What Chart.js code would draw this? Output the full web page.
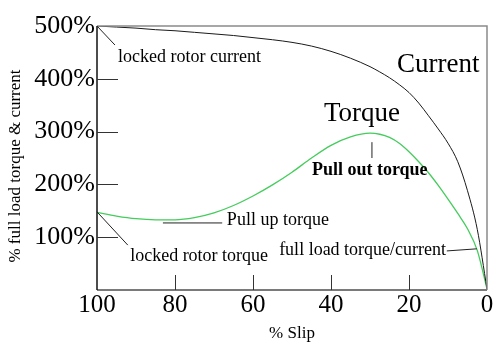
<!DOCTYPE html>
<html>
<head>
<meta charset="utf-8">
<script src="https://cdn.jsdelivr.net/npm/chart.js@4"></script>
<style>
  html, body { margin: 0; padding: 0; background: #fff; }
  #wrap { width: 503px; height: 353px; }
</style>
</head>
<body>
<div id="wrap"><canvas id="motorChart"></canvas></div>
<script>
// % slip (x) and the two curves
const slip = [100, 95, 90, 85, 80, 75, 70, 65, 60, 55, 50, 45, 40, 35, 30, 27.5, 25, 22.5, 20, 17.5, 15, 12.5, 10, 7.5, 5, 2.5, 0];
const currentPct = [500, 498, 496, 493, 491, 488, 485, 482, 478, 474, 469, 462, 452, 439, 423, 413, 402, 389, 374, 354, 330, 305, 278, 243, 188, 115, 2];
const torquePct = [147, 140, 135, 133, 133, 137, 146, 160, 178, 199, 223, 250, 274, 290, 297, 295, 289, 278, 262, 243, 222, 198, 172, 145, 116, 75, 2];

const xTicks = [80, 60, 40, 20];
const yTicks = [100, 200, 300, 400];
const yTitle = '% full load torque & current';

// callout texts and leader lines, in data units (slip, %)
const labels = [
    { text: 'locked rotor current', x: 94.6, y: 432, size: 18 },
    { text: 'Current', x: 23.1, y: 413, size: 27 },
    { text: 'Torque', x: 41.8, y: 320, size: 27 },
    { text: 'Pull out torque', x: 44.9, y: 218, size: 18, bold: true },
    { text: 'Pull up torque', x: 66.7, y: 123, size: 18 },
    { text: 'locked rotor torque', x: 91.5, y: 55, size: 18 },
    { text: 'full load torque/current', x: 53.3, y: 66, size: 18 }
];
const leaders = [
    [100, 500, 95.4, 464],
    [100, 148, 92.1, 85],
    [83.1, 127, 67.9, 127],
    [29.5, 280, 29.5, 250],
    [10.3, 74, 2.6, 78]
];

const serif = "'Liberation Serif', 'Times New Roman', serif";

// frame, inner ticks, y title and callouts
const decorPlugin = {
    id: 'decor',
    afterDatasetsDraw(chart) {
        const ctx = chart.ctx;
        const a = chart.chartArea;
        const xs = chart.scales.x;
        const ys = chart.scales.y;
        ctx.save();

        // top + right border (grey)
        ctx.strokeStyle = '#8a8a8a';
        ctx.lineWidth = 1.5;
        ctx.beginPath();
        ctx.moveTo(a.left, a.top);
        ctx.lineTo(a.right, a.top);
        ctx.lineTo(a.right, a.bottom);
        ctx.stroke();

        // bottom axis (grey)
        ctx.strokeStyle = '#7a7a7a';
        ctx.lineWidth = 2;
        ctx.beginPath();
        ctx.moveTo(a.left, a.bottom);
        ctx.lineTo(a.right, a.bottom);
        ctx.stroke();

        // left axis (black)
        ctx.strokeStyle = '#111';
        ctx.lineWidth = 1.5;
        ctx.beginPath();
        ctx.moveTo(a.left, a.top);
        ctx.lineTo(a.left, a.bottom);
        ctx.stroke();

        // ticks pointing inward
        ctx.strokeStyle = '#333';
        ctx.lineWidth = 1;
        ctx.beginPath();
        yTicks.forEach(v => {
            const py = Math.round(ys.getPixelForValue(v)) + 0.5;
            ctx.moveTo(a.left, py);
            ctx.lineTo(a.left + 21, py);
        });
        xTicks.forEach(v => {
            const px = Math.round(xs.getPixelForValue(v)) + 0.5;
            ctx.moveTo(px, a.bottom);
            ctx.lineTo(px, a.bottom - 15);
        });
        ctx.stroke();

        // leader lines
        ctx.strokeStyle = '#222';
        ctx.lineWidth = 1;
        ctx.beginPath();
        leaders.forEach(l => {
            ctx.moveTo(xs.getPixelForValue(l[0]), ys.getPixelForValue(l[1]));
            ctx.lineTo(xs.getPixelForValue(l[2]), ys.getPixelForValue(l[3]));
        });
        ctx.stroke();

        // callout texts
        ctx.fillStyle = '#000';
        ctx.textAlign = 'left';
        ctx.textBaseline = 'alphabetic';
        labels.forEach(t => {
            ctx.font = (t.bold ? 'bold ' : '') + t.size + 'px ' + serif;
            ctx.fillText(t.text, xs.getPixelForValue(t.x), ys.getPixelForValue(t.y));
        });

        // rotated y title, a little below the axis centre like the original
        ctx.translate(16, (a.top + a.bottom) / 2 + 8);
        ctx.rotate(-Math.PI / 2);
        ctx.textAlign = 'center';
        ctx.textBaseline = 'middle';
        ctx.font = '17px ' + serif;
        ctx.fillText(yTitle, 0, 0);
        ctx.restore();
    }
};

const chartCtx = document.getElementById('motorChart').getContext('2d');
const motorChart = new Chart(chartCtx, {
    type: 'line',
    data: {
        labels: slip,
        datasets: [
            {
                label: 'Current',
                data: slip.map((s, i) => ({ x: s, y: currentPct[i] })),
                borderColor: '#1a1a1a',
                borderWidth: 1,
                pointRadius: 0,
                cubicInterpolationMode: 'monotone',
                fill: false
            },
            {
                label: 'Torque',
                data: slip.map((s, i) => ({ x: s, y: torquePct[i] })),
                borderColor: '#44cc5c',
                borderWidth: 1.3,
                pointRadius: 0,
                cubicInterpolationMode: 'monotone',
                fill: false
            }
        ]
    },
    options: {
        responsive: true,
        maintainAspectRatio: false,
        animation: false,
        layout: {
            padding: { top: 26, right: 16, left: 0, bottom: 0 }
        },
        plugins: {
            legend: { display: false },
            tooltip: { enabled: false }
        },
        scales: {
            x: {
                type: 'linear',
                min: 0,
                max: 100,
                reverse: true,
                afterFit: scale => { scale.height = 63; },
                afterBuildTicks: scale => {
                    scale.ticks = [100, 80, 60, 40, 20, 0].map(v => ({ value: v }));
                },
                ticks: {
                    color: '#000',
                    font: { family: serif, size: 25 },
                    padding: 0,
                    maxRotation: 0
                },
                grid: { display: false, drawTicks: false },
                border: { display: false },
                title: {
                    display: true,
                    text: '% Slip',
                    color: '#000',
                    font: { family: serif, size: 17 },
                    padding: { top: 0, bottom: 9 }
                }
            },
            y: {
                min: 0,
                max: 500,
                afterFit: scale => { scale.width = 97; },
                afterBuildTicks: scale => {
                    scale.ticks = [100, 200, 300, 400, 500].map(v => ({ value: v }));
                },
                ticks: {
                    color: '#000',
                    font: { family: serif, size: 26 },
                    padding: 2,
                    callback: v => v + '%'
                },
                grid: { display: false, drawTicks: false },
                border: { display: false }
            }
        }
    },
    plugins: [decorPlugin]
});
</script>
</body>
</html>
